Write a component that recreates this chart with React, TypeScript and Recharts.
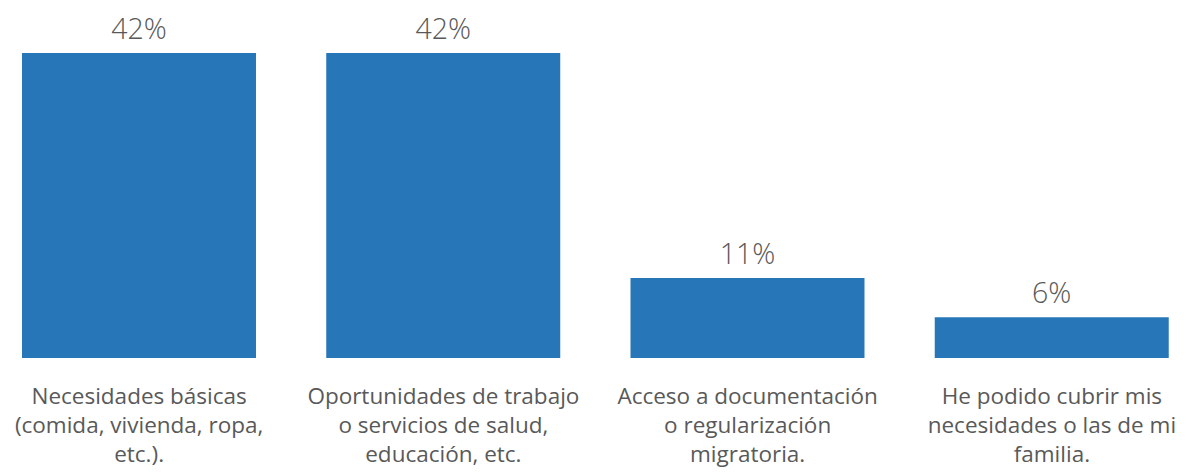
import React from "react";
import { BarChart, Bar, XAxis, YAxis, LabelList } from "recharts";

const categories = [
  ["Necesidades básicas", "(comida, vivienda, ropa,", "etc.)."],
  ["Oportunidades de trabajo", "o servicios de salud,", "educación, etc."],
  ["Acceso a documentación", "o regularización", "migratoria."],
  ["He podido cubrir mis", "necesidades o las de mi", "familia."],
];
const values = [42, 42, 11, 5.6];

const data = categories.map((lines, i) => ({ name: lines.join(" "), lines, value: values[i] }));

const TEXT = "#595959";
const FONT = "'Open Sans', 'Noto Sans', sans-serif";

const CategoryTick = (props: any) => {
  const { x, y, payload } = props;
  const lines: string[] = data[payload.index]?.lines ?? [payload.value];
  return (
    <text x={x} y={y} textAnchor="middle" fill={TEXT} fontSize={22.5} fontFamily={FONT}>
      {lines.map((l, i) => (
        <tspan key={i} x={x} y={y + 38 + i * 29}>
          {l}
        </tspan>
      ))}
    </text>
  );
};

const TopLabel = (props: any) => {
  const { x, y, width, value } = props;
  return (
    <text
      x={x + width / 2}
      y={y - 14}
      textAnchor="middle"
      fill={TEXT}
      fontSize={28.5}
      fontWeight={300}
      fontFamily={FONT}
    >
      {Math.round(value)}%
    </text>
  );
};

export default function App() {
  return (
    <div style={{ position: "absolute", left: 0, top: 0, background: "#fff" }}>
      <BarChart
        width={1186}
        height={472}
        data={data}
        margin={{ top: 53, right: -18, bottom: 0, left: -13 }}
        barCategoryGap="11.5%"
      >
        <XAxis
          dataKey="name"
          axisLine={false}
          tickLine={false}
          height={114}
          interval={0}
          tick={<CategoryTick />}
        />
        <YAxis hide domain={[0, 42]} />
        <Bar dataKey="value" fill="#2676B8" isAnimationActive={false}>
          <LabelList dataKey="value" content={<TopLabel />} />
        </Bar>
      </BarChart>
    </div>
  );
}
